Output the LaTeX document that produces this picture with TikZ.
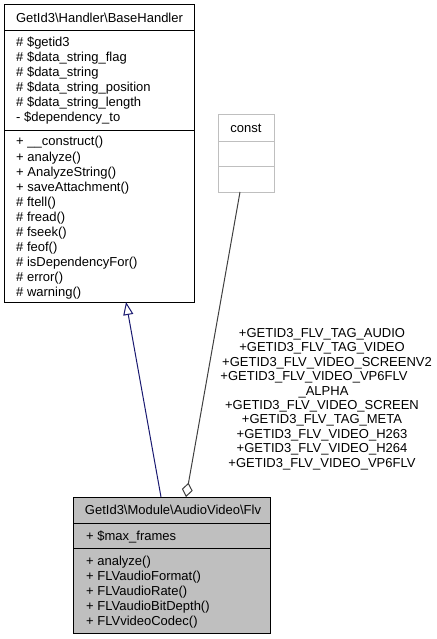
\documentclass[tikz,border=0pt]{standalone}
\usepackage{fontspec}
\setmainfont{Liberation Sans}
\usetikzlibrary{arrows.meta}

\definecolor{flvgray}{HTML}{BFBFBF}
\definecolor{constgray}{HTML}{BFBFBF}
\definecolor{inhblue}{HTML}{191970}
\definecolor{usegray}{HTML}{404040}

\tikzset{
  classbox/.style={draw=black, line width=1pt, fill=white, anchor=north west, inner sep=0pt, outer sep=0pt},
  divider/.style={line width=1pt},
  member/.style={anchor=base west, inner sep=0pt, font=\fontsize{13}{15}\selectfont},
  classname/.style={anchor=base, inner sep=0pt, font=\fontsize{13}{15}\selectfont},
  inherit/.style={draw=inhblue, line width=1pt, -{Triangle[open, length=13pt, width=10pt]}},
  usage/.style={draw=usegray, line width=1pt, -{Diamond[open, length=14.5pt, width=11pt]}}
}

\begin{document}
\begin{tikzpicture}[x=1pt,y=-1pt]
	\useasboundingbox (0,0) rectangle (436,639);

	\node[classbox, minimum width=189.6pt, minimum height=297.3pt] (base) at (4.7,4.7) {};
	\draw[divider] ([yshift=-26.3pt]base.north west) -- ([yshift=-26.3pt]base.north east);
	\draw[divider] ([yshift=-126pt]base.north west) -- ([yshift=-126pt]base.north east);
	\node[classname] (base name) at (99.5,22.3) {GetId3\textbackslash Handler\textbackslash BaseHandler};
	\foreach \txt [count=\i] in {\# \$getid3, \# \$data\_string\_flag, \# \$data\_string, \# \$data\_string\_position, \# \$data\_string\_length, - \$dependency\_to}
		\node[member] (base attr \i) at (16,{47+15*(\i-1)}) {\txt};
	\foreach \txt [count=\i] in {+ \_\_construct(), + analyze(), + AnalyzeString(), + saveAttachment(), \# ftell(), \# fread(), \# fseek(), \# feof(), \# isDependencyFor(), \# error(), \# warning()}
		\node[member] (base op \i) at (16,{146+15*(\i-1)}) {\txt};

	\node[classbox, draw=constgray, minimum width=55.7pt, minimum height=77pt] (const) at (218.3,115) {};
	\draw[divider, draw=constgray] ([yshift=-27pt]const.north west) -- ([yshift=-27pt]const.north east);
	\draw[divider, draw=constgray] ([yshift=-52pt]const.north west) -- ([yshift=-52pt]const.north east);
	\node[classname] (const name) at (246,133) {const};

	\node[classbox, fill=flvgray, minimum width=196.7pt, minimum height=136pt] (flv) at (73.3,497) {};
	\draw[divider] ([yshift=-26pt]flv.north west) -- ([yshift=-26pt]flv.north east);
	\draw[divider] ([yshift=-51pt]flv.north west) -- ([yshift=-51pt]flv.north east);
	\node[classname] (flv name) at (173,514.5) {GetId3\textbackslash Module\textbackslash AudioVideo\textbackslash Flv};
	\node[member] (flv attr 1) at (86,540) {+ \$max\_frames};
	\foreach \txt [count=\i] in {+ analyze(), + FLVaudioFormat(), + FLVaudioRate(), + FLVaudioBitDepth(), + FLVvideoCodec()}
		\node[member] (flv op \i) at (86,{565+15*(\i-1)}) {\txt};

	\draw[inherit] ([xshift=87.7pt]flv.north west) -- ([xshift=121.3pt]base.south west);
	\draw[usage] ([xshift=21.7pt]const.south west) -- ([xshift=112.7pt]flv.north west);
	\foreach \txt/\cx [count=\i] in {+GETID3\_FLV\_TAG\_AUDIO/322, +GETID3\_FLV\_TAG\_VIDEO/322, +GETID3\_FLV\_VIDEO\_SCREENV2/327, +GETID3\_FLV\_VIDEO\_VP6FLV/314, \_ALPHA/323.5, +GETID3\_FLV\_VIDEO\_SCREEN/322, +GETID3\_FLV\_TAG\_META/322, +GETID3\_FLV\_VIDEO\_H263/322, +GETID3\_FLV\_VIDEO\_H264/322, +GETID3\_FLV\_VIDEO\_VP6FLV/322}
		\node[classname] (const label \i) at (\cx,{337.3+14.44*(\i-1)}) {\txt};
\end{tikzpicture}
\end{document}
